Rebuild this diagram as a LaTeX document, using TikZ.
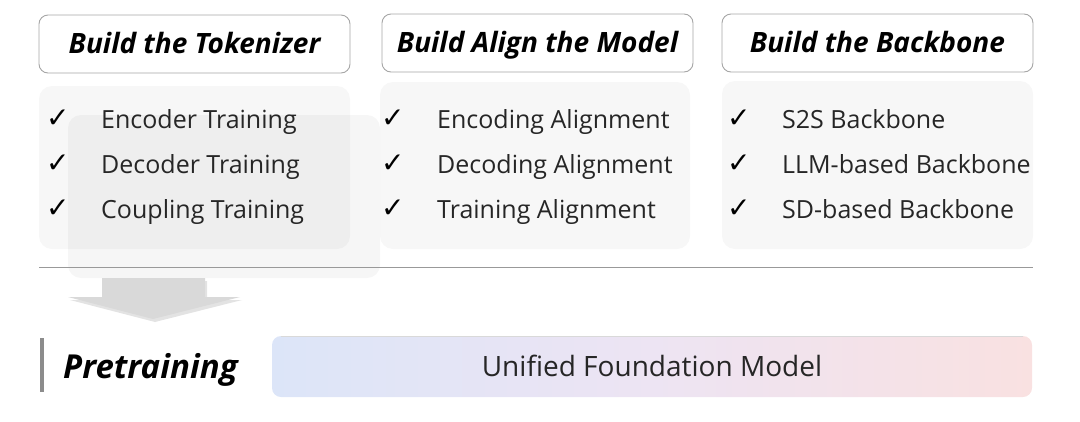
\documentclass[tikz,border=0pt]{standalone}
\usepackage{fontspec}
\setmainfont{Open Sans}
\newfontfamily\dejavu{DejaVu Sans}
\usetikzlibrary{shadows}
\definecolor{panelgray}{HTML}{F7F7F7}
\definecolor{hdrborder}{HTML}{A6A6A6}
\definecolor{arrowgray}{HTML}{D9D9D9}
\definecolor{gradL}{HTML}{DCE5F8}
\definecolor{gradM}{HTML}{EDE4F3}
\definecolor{gradR}{HTML}{F9E1E1}
\tikzset{
  hdr/.style={draw=hdrborder, line width=0.9pt, rounded corners=9pt, fill=white},
  hdrtext/.style={font=\fontsize{28}{32}\selectfont\bfseries\itshape, anchor=base, inner sep=0pt},
  panel/.style={fill=panelgray, rounded corners=13pt},
  item/.style={font=\fontsize{25}{29}\selectfont, anchor=base west, inner sep=0pt, text=black!85},
  chk/.style={font=\dejavu\fontsize{28}{32}\selectfont, anchor=base west, inner sep=0pt},
}
\begin{document}
\begin{tikzpicture}[x=1pt,y=-1pt]
\useasboundingbox (0,0) rectangle (1080,421);
% header boxes
\draw[hdr] (39,15) rectangle (350,73);
\node[hdrtext] (h1) at (194.5,53) {Build the Tokenizer};
\draw[hdr] (382,14) rectangle (693,72);
\node[hdrtext] (h2) at (537.5,52) {Build Align the Model};
\draw[hdr] (722,14) rectangle (1033,72);
\node[hdrtext] (h3) at (877.5,52) {Build the Backbone};
% panels
\fill[panel] (39,86) rectangle (350,249);
\fill[panel] (380,82) rectangle (690,249);
\fill[panel] (722,81) rectangle (1033,249);
\fill[black, opacity=0.035, rounded corners=13pt] (68,115) rectangle (380,278);
% items panel 1
\node[chk] (c11) at (46,127) {✓};
\node[item] (i11) at (101,128) {Encoder Training};
\node[chk] (c12) at (46,172) {✓};
\node[item] (i12) at (101,173) {Decoder Training};
\node[chk] (c13) at (46,217) {✓};
\node[item] (i13) at (101,218) {Coupling Training};
% items panel 2
\node[chk] (c21) at (381,127) {✓};
\node[item] (i21) at (437,128) {Encoding Alignment};
\node[chk] (c22) at (381,172) {✓};
\node[item] (i22) at (437,173) {Decoding Alignment};
\node[chk] (c23) at (381,217) {✓};
\node[item] (i23) at (437,218) {Training Alignment};
% items panel 3
\node[chk] (c31) at (727,127) {✓};
\node[item] (i31) at (782,128) {S2S Backbone};
\node[chk] (c32) at (727,172) {✓};
\node[item] (i32) at (782,173) {LLM-based Backbone};
\node[chk] (c33) at (727,217) {✓};
\node[item] (i33) at (782,218) {SD-based Backbone};
% separator
\draw[black!40, line width=0.8pt] (39,267) -- (1033,267);
% block arrow
\fill[arrowgray, drop shadow={opacity=0.22, shadow xshift=2pt, shadow yshift=-3pt}]
  (102,278) -- (205,278) -- (205,297) -- (240,297) -- (153,319) -- (68,297) -- (102,297) -- cycle;
% pretraining
\fill[black!45] (40,338) rectangle (44,392);
\node[font=\fontsize{33}{37}\selectfont\bfseries\itshape, anchor=base west, inner sep=0pt] (pre) at (63,378) {Pretraining};
% unified box
\shade[rounded corners=9pt, left color=gradL, right color=gradR, middle color=gradM] (272,336) rectangle (1032,397);
\draw[black!15, line width=0.8pt] (281,336) -- (1023,336);
\node[font=\fontsize{28}{32}\selectfont, anchor=base, inner sep=0pt, text=black!85] (ufm) at (652,376) {Unified Foundation Model};
\end{tikzpicture}
\end{document}
